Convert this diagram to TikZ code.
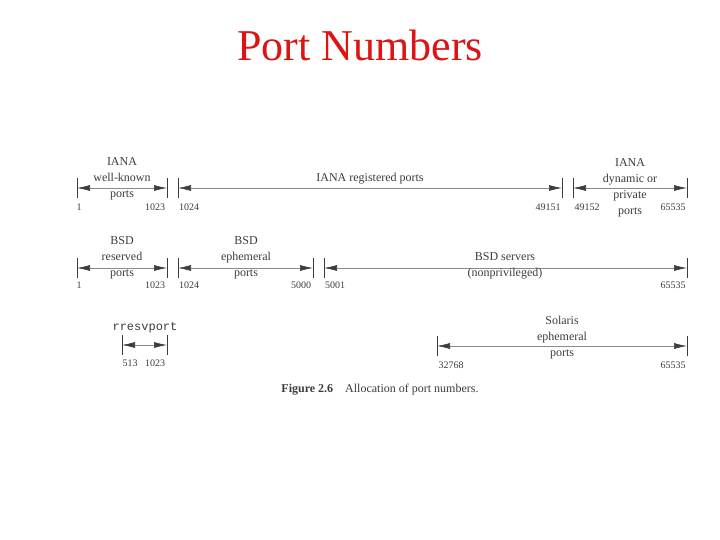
\documentclass[tikz,border=0pt]{standalone}
\usepackage{fontspec}
\setmainfont{Liberation Serif}
\setmonofont{Liberation Mono}
\usetikzlibrary{arrows.meta}
\definecolor{ink}{RGB}{60,60,60}
\definecolor{titlered}{RGB}{220,20,20}
\tikzset{
  lbl/.style={text=ink,font=\fontsize{12}{16}\selectfont,inner sep=0pt,align=center},
  num/.style={text=ink,font=\fontsize{10}{11}\selectfont,inner sep=0pt},
  tick/.style={draw=ink,line width=0.7pt},
  rng/.style={draw=ink!60,line width=0.6pt,{Latex[length=13pt,width=6pt,color=ink]}-{Latex[length=13pt,width=6pt,color=ink]}}
}
\newcommand{\tk}[3]{\coordinate (#1) at (#2,#3); \draw[tick] ([yshift=-10pt]#1) -- ([yshift=10pt]#1);}
\begin{document}
\begin{tikzpicture}[x=1pt,y=-1pt]
\useasboundingbox (0,0) rectangle (720,540);
\node[text=titlered,font=\fontsize{44}{48}\selectfont] (title) at (360,45) {Port Numbers};
% row 1
\tk{a1}{77}{188}\tk{a2}{167}{188}\tk{a3}{178}{188}\tk{a4}{562}{188}\tk{a5}{573}{188}\tk{a6}{687}{188}
\draw[rng] (a1) -- (a2); \draw[rng] (a3) -- (a4); \draw[rng] (a5) -- (a6);
\node[lbl] (t1) at (122,179) {IANA\\well-known\\ports};
\node[lbl,fill=white,inner xsep=2pt] (t2) at (370,179) {IANA registered ports};
\node[lbl] (t3) at (630,188) {IANA\\dynamic or\\private\\ports};
\node[num] (n1) at (79,207) {1};
\node[num] (n2) at (155,207) {1023};
\node[num] (n3) at (189,207) {1024};
\node[num] (n4) at (548,207) {49151};
\node[num] (n5) at (587,207) {49152};
\node[num] (n6) at (673,207) {65535};
% row 2
\tk{b1}{77}{268}\tk{b2}{167}{268}\tk{b3}{178}{268}\tk{b4}{313}{268}\tk{b5}{324}{268}\tk{b6}{687}{268}
\draw[rng] (b1) -- (b2); \draw[rng] (b3) -- (b4); \draw[rng] (b5) -- (b6);
\node[lbl] (u1) at (122,258) {BSD\\reserved\\ports};
\node[lbl] (u2) at (246,258) {BSD\\ephemeral\\ports};
\node[lbl] (u3) at (505,266) {BSD servers\\(nonprivileged)};
\node[num] (m1) at (79,285) {1};
\node[num] (m2) at (155,285) {1023};
\node[num] (m3) at (189,285) {1024};
\node[num] (m4) at (301,285) {5000};
\node[num] (m5) at (335,285) {5001};
\node[num] (m6) at (673,285) {65535};
% row 3
\tk{c1}{122}{345}\tk{c2}{167}{345}\tk{c3}{437}{346}\tk{c4}{687}{346}
\draw[rng] (c1) -- (c2); \draw[rng] (c3) -- (c4);
\node[text=ink,font=\ttfamily\fontsize{12}{13}\selectfont,inner sep=0pt] (r1) at (145,328) {rresvport};
\node[lbl] (s1) at (562,338) {Solaris\\ephemeral\\ports};
\node[num] (k1) at (130,363) {513};
\node[num] (k2) at (155,363) {1023};
\node[num] (k3) at (451,365) {32768};
\node[num] (k4) at (673,365) {65535};
\node[lbl] (cap) at (380,390) {\textbf{Figure 2.6}\quad Allocation of port numbers.};
\end{tikzpicture}
\end{document}
